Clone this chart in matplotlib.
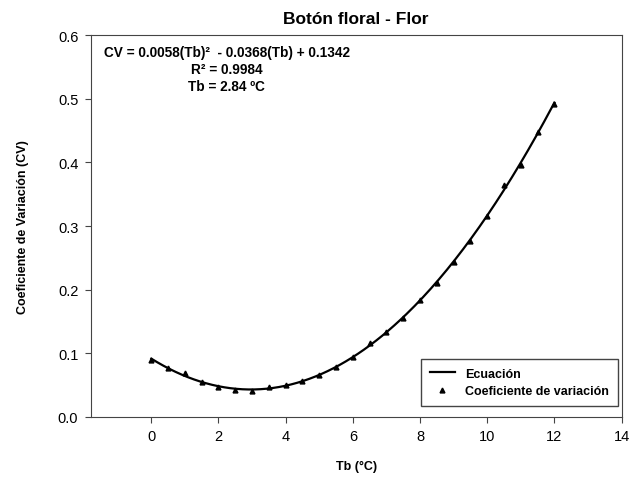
import numpy as np
import matplotlib.pyplot as plt

plt.rcParams['font.family'] = ['Liberation Sans', 'DejaVu Sans']

# Data
tb = [0, 0.5, 1, 1.5, 2, 2.5, 3, 3.5, 4, 4.5, 5, 5.5, 6, 6.5,
      7, 7.5, 8, 8.5, 9, 9.5, 10, 10.5, 11, 11.5, 12]
cv = [0.090, 0.0765, 0.069, 0.0545, 0.0466, 0.0424, 0.0413, 0.0476, 0.050,
      0.056, 0.066, 0.078, 0.094, 0.116, 0.134, 0.155, 0.184, 0.210, 0.243,
      0.276, 0.315, 0.365, 0.396, 0.448, 0.492]

x_ticks = [0, 2, 4, 6, 8, 10, 12, 14]
y_ticks = [0.0, 0.1, 0.2, 0.3, 0.4, 0.5, 0.6]

eq_text = "CV = 0.0058(Tb)²  - 0.0368(Tb) + 0.1342\nR² = 0.9984\nTb = 2.84 ºC"

# fitted curve through the points
coef = np.polyfit(tb, cv, 2)
xs = np.linspace(min(tb), max(tb), 200)
ys = np.polyval(coef, xs)

fig = plt.figure(figsize=(6.31, 4.81), dpi=100)
ax = fig.add_axes([0.144, 0.131, 0.841, 0.794])

ax.plot(xs, ys, color='black', lw=1.6, label='Ecuación')
ax.plot(tb, cv, ls='none', marker='^', ms=3.5, color='black',
        label='Coeficiente de variación')

ax.set_xlim(-1.8, 14)
ax.set_ylim(0, 0.6)
ax.set_xticks(x_ticks)
ax.set_yticks(y_ticks)
ax.set_yticklabels([f"{v:.1f}" for v in y_ticks])
ax.tick_params(direction='out', length=4, labelsize=10.5, color='#444444', pad=5)
for s in ax.spines.values():
    s.set_color('#444444')

ax.set_title('Botón floral - Flor', fontsize=12.5, fontweight='bold', pad=9)
ax.set_xlabel('Tb (°C)', fontsize=9, fontweight='bold', labelpad=12)
ax.set_ylabel('Coeficiente de Variación (CV)', fontsize=9, fontweight='bold', labelpad=21)

ax.text(2.25, 0.585, eq_text, ha='center', va='top',
        fontsize=9.8, fontweight='bold', linespacing=1.3)

leg = ax.legend(loc='lower right', bbox_to_anchor=(0.9925, 0.029),
                borderaxespad=0, prop={'weight': 'bold', 'size': 9},
                fancybox=False, edgecolor='#444444', framealpha=1,
                handlelength=2.0, borderpad=0.7, labelspacing=0.45)
leg.get_frame().set_linewidth(1.0)

fig.savefig('out.png', dpi=100)
